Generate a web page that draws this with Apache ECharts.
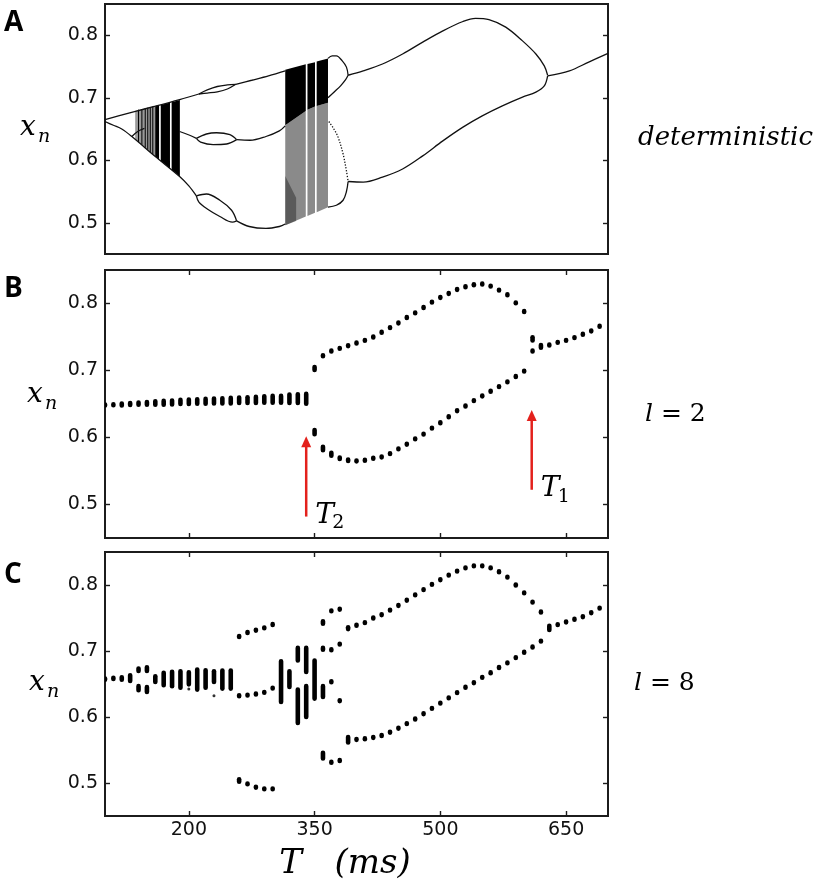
<!DOCTYPE html>
<html>
<head>
<meta charset="utf-8">
<script src="https://cdn.jsdelivr.net/npm/echarts@6/dist/echarts.min.js"></script>
<style>
  html, body { margin: 0; padding: 0; background: #fff; }
  #chart { width: 819px; height: 885px; }
</style>
</head>
<body>
<div id="chart"></div>
<script>
// axis ranges and ticks
var tTicks = [200, 350, 500, 650];
var xTicks = [0.5, 0.6, 0.7, 0.8];

// ---- panel A: deterministic bifurcation curves [T, x]
var aUpperLeft = [[100,0.665],[116,0.671],[134,0.6775],[160,0.6865],[189,0.697],[212,0.706]];
var aUpperLensTop = [[212,0.706],[222,0.7125],[234,0.718],[246,0.7205],[256,0.7215]];
var aUpperLensBot = [[212,0.706],[222,0.7075],[234,0.7095],[246,0.714],[256,0.7215]];
var aUpperMid = [[256,0.7215],[275,0.728],[295,0.735],[315,0.743]];
var aLowerLeft = [[100,0.662],[110,0.656],[120,0.650],[132,0.638],[160,0.606],[189,0.574],[200,0.559],[209,0.543]];
var aLowerLensTop = [[209,0.543],[221,0.546],[237,0.536],[251,0.520],[257,0.503]];
var aLowerLensBot = [[209,0.543],[212,0.533],[222,0.522],[237,0.510],[252,0.501],[257,0.503]];
var aLowerRight = [[257,0.503],[272,0.494],[292,0.491],[308,0.494],[315,0.498]];
var aMidLeft = [[189,0.646],[201,0.640],[209,0.635]];
var aMidLensTop = [[209,0.635],[221,0.642],[233,0.644],[249,0.641],[257,0.633]];
var aMidLensBot = [[209,0.635],[214,0.629],[229,0.625],[245,0.626],[257,0.633]];
var aMidRight = [[257,0.633],[273,0.632],[292,0.638],[308,0.647],[315,0.655]];
var aKink = [[132,0.638],[139,0.646],[147,0.651]];
var aLoopTop = [[366,0.763],[371,0.767],[376,0.767],[383,0.759],[388,0.749],[390,0.736]];
var aLoopInner = [[366,0.700],[374,0.710],[381,0.719],[387,0.729],[390,0.736]];
var aLoopBottom = [[366,0.525],[376,0.528],[384,0.536],[388,0.550],[390,0.566]];
var aDotted = [[367,0.662],[373,0.650],[378,0.637],[384,0.610],[388,0.583],[390,0.566]];
var aHighRight = [[390,0.736],[408,0.743],[431,0.754],[455,0.770],[479,0.789],[503,0.807],[527,0.822],[542,0.827],[558,0.825],[578,0.813],[598,0.791],[614,0.770],[624,0.751],[628,0.736]];
var aLowRight = [[390,0.566],[408,0.565],[431,0.573],[455,0.586],[479,0.607],[503,0.631],[527,0.653],[550,0.671],[574,0.687],[598,0.701],[614,0.709],[624,0.719],[628,0.735]];
var aTail = [[628,0.735],[654,0.743],[677,0.757],[700,0.771]];

// chaotic bands [T0, T1, lo0, lo1, hi0, hi1]
var aBand1Light = [[136,163,0.634,0.603,0.679,0.688]];
var aBand1Dense = [[160,164.5,0.606,0.601,0.6865,0.688],[166.5,177.5,0.599,0.587,0.6885,0.6925],[179.5,189.3,0.585,0.574,0.693,0.6965]];
var aBand1Lines = [[140,0.629,0.681],[144,0.625,0.682],[148,0.620,0.683],[151,0.617,0.684],[154,0.613,0.685],[157,0.610,0.686]];
var aBand2Dense = [[315,339.5,0.656,0.679,0.745,0.7535],[341.5,350.5,0.681,0.686,0.754,0.757],[352.5,366,0.687,0.692,0.758,0.763]];
var aBand2Light = [[315,339.5,0.496,0.510,0.656,0.679],[341.5,350.5,0.511,0.516,0.681,0.686],[352.5,366,0.517,0.525,0.687,0.692]];
var aBand2Dark = [[315,328,0.496,0.503,0.575,0.540]];

// ---- panel B: l = 2 [T, lo, hi]
var bFlat = [[100,0.6485,0.6485],[110,0.6488,0.6488],[120,0.6485,0.6500],[130,0.6490,0.6510],[140,0.6495,0.6515],
  [150,0.6495,0.6525],[160,0.6495,0.6535],[170,0.6495,0.6540],[180,0.6500,0.6545],[190,0.6505,0.6555],
  [200,0.6505,0.6560],[210,0.6510,0.6565],[220,0.6510,0.6570],[230,0.6515,0.6575],[240,0.6515,0.6580],
  [250,0.6515,0.6585],[260,0.6520,0.6590],[270,0.6520,0.6595],[280,0.6520,0.6600],[290,0.6525,0.6610],
  [300,0.6525,0.6615],[310,0.6525,0.6615],[320,0.6520,0.6635],[330,0.6520,0.6640],[340,0.6510,0.6645]];
var bUpper = [[350,0.7015,0.7045],[360,0.722,0.722],[370,0.729,0.729],[380,0.733,0.733],[390,0.737,0.737],
  [400,0.741,0.741],[410,0.745,0.745],[420,0.750,0.750],[430,0.757,0.757],[440,0.764,0.764],[450,0.771,0.771],
  [460,0.779,0.779],[470,0.786,0.786],[480,0.794,0.794],[490,0.802,0.802],[500,0.809,0.809],[510,0.815,0.815],
  [520,0.821,0.821],[530,0.825,0.825],[540,0.828,0.828],[550,0.829,0.829],[560,0.826,0.826],[570,0.820,0.820],
  [580,0.813,0.813],[590,0.801,0.801],[600,0.788,0.788]];
var bLower = [[350,0.6055,0.6105],[360,0.5815,0.5855],[370,0.5735,0.5765],[380,0.5685,0.5695],[390,0.5655,0.5665],
  [400,0.565,0.565],[410,0.566,0.566],[420,0.569,0.569],[430,0.571,0.571],[440,0.576,0.576],[450,0.583,0.583],
  [460,0.590,0.590],[470,0.598,0.598],[480,0.605,0.605],[490,0.614,0.614],[500,0.622,0.622],[510,0.631,0.631],
  [520,0.640,0.640],[530,0.647,0.647],[540,0.655,0.655],[550,0.662,0.662],[560,0.669,0.669],[570,0.676,0.676],
  [580,0.683,0.683],[590,0.691,0.691],[600,0.699,0.699]];
var bRight = [[610,0.7455,0.749],[610,0.729,0.729],[620,0.7345,0.7375],[630,0.738,0.738],[640,0.742,0.742],
  [650,0.745,0.745],[660,0.749,0.749],[670,0.754,0.754],[680,0.759,0.759],[690,0.766,0.766]];
// arrows [T, from, to] and their subscripts
var bArrows = [[340,0.482,0.602],[609,0.522,0.641]];
var bArrowSub = ['2', '1'];

// ---- panel C: l = 8 [T, lo, hi]
var cLeft = [[100,0.6572,0.6577],[110,0.6582,0.6587],[120,0.6572,0.6597],[130,0.6552,0.6627],
  [140,0.6703,0.6728],[140,0.6411,0.6461],[150,0.6703,0.6748],[150,0.6385,0.6446],
  [160,0.6537,0.6612],[170,0.6486,0.6663],[180,0.6471,0.6678],[190,0.6451,0.6688],[200,0.6501,0.6673],
  [210,0.6421,0.6713],[220,0.6451,0.6703],[230,0.6537,0.6688],[240,0.6436,0.6698],[250,0.6436,0.6698]];
var cMid = [[260,0.722,0.722],[260,0.6322,0.6322],[260,0.5025,0.5050],
  [270,0.728,0.728],[270,0.6332,0.6332],[270,0.4987,0.4987],
  [280,0.7315,0.7315],[280,0.6348,0.6348],[280,0.4936,0.4936],
  [290,0.7351,0.7351],[290,0.6373,0.6373],[290,0.4911,0.4911],
  [300,0.7401,0.7401],[300,0.6438,0.6438],[300,0.4911,0.4911],
  [310,0.6234,0.6839],[320,0.6461,0.6688],
  [330,0.6864,0.7041],[330,0.5917,0.6411],[340,0.6688,0.7041],[340,0.6007,0.6461],[350,0.6285,0.6849],
  [360,0.7419,0.7444],[360,0.7025,0.7041],[360,0.6310,0.6461],[360,0.5377,0.5453],
  [370,0.7608,0.7608],[370,0.7018,0.7018],[370,0.6534,0.6534],[370,0.5314,0.5314],
  [380,0.7633,0.7633],[380,0.7104,0.7104],[380,0.6247,0.6247],[380,0.5340,0.5340],
  [390,0.7338,0.7353],[390,0.5619,0.5690]];
var cSmall = [[200,0.6423],[230,0.6322]];
var cUpper = [[400,0.739],[410,0.743],[420,0.750],[430,0.755],[440,0.762],[450,0.769],[460,0.777],[470,0.785],
  [480,0.793],[490,0.801],[500,0.808],[510,0.815],[520,0.821],[530,0.826],[540,0.829],[550,0.829],[560,0.826],
  [570,0.820],[580,0.812],[590,0.800],[600,0.788],[610,0.774],[620,0.759]];
var cLower = [[400,0.566],[410,0.567],[420,0.569],[430,0.572],[440,0.577],[450,0.583],[460,0.590],[470,0.597],
  [480,0.605],[490,0.613],[500,0.621],[510,0.629],[520,0.637],[530,0.645],[540,0.652],[550,0.660],[560,0.667],
  [570,0.675],[580,0.682],[590,0.690],[600,0.698],[610,0.706],[620,0.715]];
var cRight = [[630,0.7325,0.7375],[640,0.740],[650,0.744],[660,0.748],[670,0.752],[680,0.758],[690,0.765]];

var chart = echarts.init(document.getElementById('chart'));

var grids = [
  { left: 105, right: 211, top: 4, height: 250 },
  { left: 105, right: 211, top: 270, height: 268 },
  { left: 105, right: 211, top: 552, height: 264 }
];
grids.forEach(function (g) {
  g.show = true; g.borderColor = '#1c1c1c'; g.borderWidth = 2; g.backgroundColor = '#fff';
});

var tickStyle = { color: '#1c1c1c', width: 1.4 };
var xAxes = [], yAxes = [];
for (var i = 0; i < 3; i++) {
  ['bottom', 'top'].forEach(function (pos) {
    xAxes.push({
      type: 'value', gridIndex: i, min: 100, max: 700, position: pos,
      axisLine: { show: false }, splitLine: { show: false },
      axisTick: { show: i > 0, inside: true, length: 5, lineStyle: tickStyle, customValues: tTicks },
      axisLabel: {
        show: i === 2 && pos === 'bottom', customValues: tTicks, margin: 5,
        fontFamily: 'DejaVu Sans', fontSize: 19, color: '#111'
      }
    });
  });
  ['left', 'right'].forEach(function (pos) {
    yAxes.push({
      type: 'value', gridIndex: i, min: 0.45, max: 0.85, position: pos,
      axisLine: { show: false }, splitLine: { show: false },
      axisTick: { inside: true, length: 5, lineStyle: tickStyle, customValues: xTicks },
      axisLabel: {
        show: pos === 'left', customValues: xTicks, margin: 7,
        formatter: function (v) { return v.toFixed(1); },
        fontFamily: 'DejaVu Sans', fontSize: 19, color: '#111'
      }
    });
  });
}

function bandRenderer(fill) {
  return function (params, api) {
    var a = api.coord([api.value(0), api.value(2)]);
    var b = api.coord([api.value(1), api.value(3)]);
    var c = api.coord([api.value(1), api.value(5)]);
    var d = api.coord([api.value(0), api.value(4)]);
    return { type: 'polygon', shape: { points: [a, b, c, d] }, style: { fill: fill } };
  };
}

function capsule(params, api) {
  var t = api.value(0);
  var lo = api.value(1);
  var hi = api.value(2);
  if (isNaN(hi)) hi = lo;
  var p0 = api.coord([t, lo]);
  var p1 = api.coord([t, hi]);
  var w = 4.6;
  return {
    type: 'rect',
    shape: { x: p1[0] - w / 2, y: p1[1] - 2.7, width: w, height: p0[1] - p1[1] + 5.4, r: w / 2 },
    style: { fill: '#000' }
  };
}

function vline(params, api) {
  var p0 = api.coord([api.value(0), api.value(1)]);
  var p1 = api.coord([api.value(0), api.value(2)]);
  return { type: 'line', shape: { x1: p0[0], y1: p0[1], x2: p1[0], y2: p1[1] }, style: { stroke: '#000', lineWidth: 1 } };
}

function arrow(params, api) {
  var t = api.value(0);
  var p0 = api.coord([t, api.value(1)]);
  var p1 = api.coord([t, api.value(2)]);
  var head = 11, hw = 5;
  var red = '#e3211c';
  return {
    type: 'group',
    children: [
      { type: 'line', shape: { x1: p0[0], y1: p0[1], x2: p1[0], y2: p1[1] + head - 1 }, style: { stroke: red, lineWidth: 2.5 } },
      { type: 'polygon', shape: { points: [[p1[0], p1[1]], [p1[0] - hw, p1[1] + head], [p1[0] + hw, p1[1] + head]] }, style: { fill: red } },
      { type: 'text', x: p0[0] + 9, y: p0[1] - 1,
        style: { text: 'T', font: 'italic 28px "DejaVu Serif"', fill: '#000', align: 'left', verticalAlign: 'middle', textAlign: 'left', textVerticalAlign: 'middle' } },
      { type: 'text', x: p0[0] + 26, y: p0[1] + 7,
        style: { text: bArrowSub[params.dataIndex], font: '19px "DejaVu Serif"', fill: '#000', align: 'left', verticalAlign: 'middle', textAlign: 'left', textVerticalAlign: 'middle' } }
    ]
  };
}

var series = [];
function customOn(gi, data, render, z) {
  series.push({
    type: 'custom', xAxisIndex: gi * 2, yAxisIndex: gi * 2, data: data, renderItem: render,
    clip: true, silent: true, z: z || 2
  });
}
function curveOn(data, dotted) {
  series.push({
    type: 'line', xAxisIndex: 0, yAxisIndex: 0, data: data, smooth: 0.35,
    symbol: 'none', silent: true, clip: true, z: 3,
    lineStyle: { color: '#111', width: 1.3, type: dotted ? [1.3, 1.6] : 'solid' }
  });
}

// panel A
customOn(0, aBand1Light, bandRenderer('rgba(0,0,0,0.4)'), 1);
customOn(0, aBand1Dense, bandRenderer('#000'), 2);
customOn(0, aBand1Lines, vline, 2);
customOn(0, aBand2Light, bandRenderer('rgba(0,0,0,0.46)'), 1);
customOn(0, aBand2Dark, bandRenderer('rgba(0,0,0,0.35)'), 1);
customOn(0, aBand2Dense, bandRenderer('#000'), 2);
[aUpperLeft, aUpperLensTop, aUpperLensBot, aUpperMid, aLowerLeft, aLowerLensTop, aLowerLensBot, aLowerRight,
 aMidLeft, aMidLensTop, aMidLensBot, aMidRight, aKink, aLoopTop, aLoopInner, aLoopBottom,
 aHighRight, aLowRight, aTail].forEach(function (c) { curveOn(c, false); });
curveOn(aDotted, true);

// panel B
[bFlat, bUpper, bLower, bRight].forEach(function (d) { customOn(1, d, capsule, 3); });
customOn(1, bArrows, arrow, 4);

// panel C
[cLeft, cMid, cUpper, cLower, cRight].forEach(function (d) { customOn(2, d, capsule, 3); });
series.push({
  type: 'scatter', xAxisIndex: 4, yAxisIndex: 4, data: cSmall, symbolSize: 3,
  itemStyle: { color: '#000' }, silent: true, z: 3
});

function txt(x, y, text, font, rich) {
  var s = { text: text, font: font, fill: '#000', align: 'left', verticalAlign: 'middle', textAlign: 'left', textVerticalAlign: 'middle' };
  if (rich) s.rich = rich;
  return { type: 'text', x: x, y: y, silent: true, style: s };
}
var serifIt = 'italic 28px "DejaVu Serif"';
var subIt = 'italic 19px "DejaVu Serif"';
var lRich = {
  i: { fontFamily: 'DejaVu Serif', fontStyle: 'italic', fontSize: 25 },
  u: { fontFamily: 'DejaVu Serif', fontSize: 25 }
};

var graphics = [
  txt(4, 23, 'A', 'bold 28px "Open Sans"'),
  txt(4, 289, 'B', 'bold 28px "Open Sans"'),
  txt(4, 575, 'C', 'bold 28px "Open Sans"'),
  txt(20, 128, 'x', serifIt), txt(38, 137, 'n', subIt),
  txt(27, 395, 'x', serifIt), txt(45, 404, 'n', subIt),
  txt(29, 683, 'x', serifIt), txt(47, 692, 'n', subIt),
  txt(638, 138, 'deterministic', 'italic 26px "DejaVu Serif"'),
  txt(645, 414, '{i|l}{u| = 2}', '25px "DejaVu Serif"', lRich),
  txt(634, 683, '{i|l}{u| = 8}', '25px "DejaVu Serif"', lRich),
  { type: 'text', x: 345, y: 864, silent: true,
    style: { text: 'T   (ms)', font: 'italic 34px "DejaVu Serif"', fill: '#000', align: 'center', verticalAlign: 'middle', textAlign: 'center', textVerticalAlign: 'middle' } }
];

chart.setOption({
  backgroundColor: '#fff',
  animation: false,
  grid: grids,
  xAxis: xAxes,
  yAxis: yAxes,
  series: series,
  graphic: graphics
});
</script>
</body>
</html>
